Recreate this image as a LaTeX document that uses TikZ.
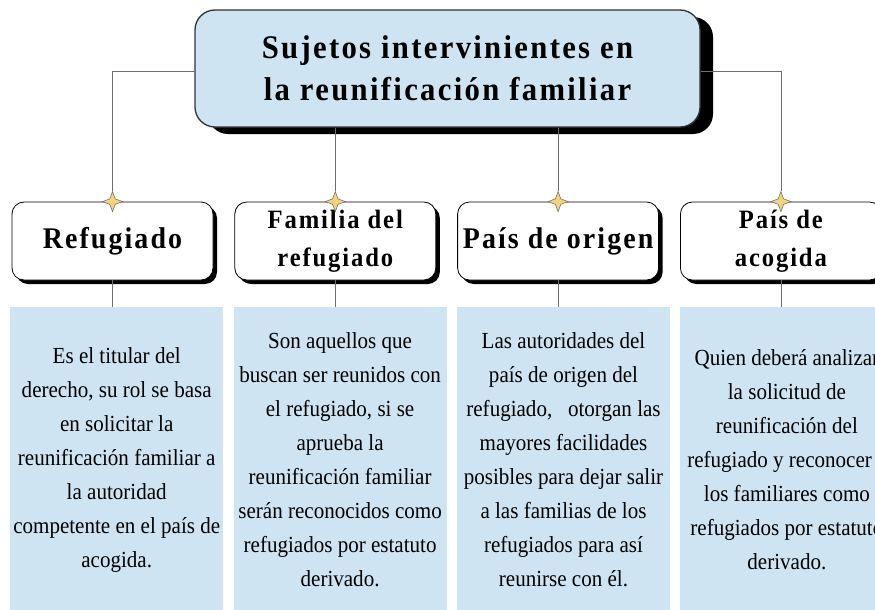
\documentclass[tikz,border=0pt]{standalone}
\usepackage{fontspec}
\setmainfont{Liberation Serif}[FakeStretch=0.915]
\newfontfamily\headfont{Liberation Serif}[FakeStretch=0.93,LetterSpace=7]
\usepackage{tikz}
\usetikzlibrary{shapes.geometric,shadows}
\definecolor{paleblue}{HTML}{CFE4F2}
\definecolor{sparkgold}{HTML}{F7D27C}
\definecolor{linkgray}{HTML}{6E6E6E}

\begin{document}
\begin{tikzpicture}[x=1pt, y=1pt,
  titlebox/.style={draw=black!80,line width=1.3pt,fill=paleblue,rounded corners=20pt,minimum width=505pt,minimum height=117pt,align=center,font=\headfont\bfseries\fontsize{33}{42}\selectfont,drop shadow={shadow xshift=13pt,shadow yshift=-7pt,fill=black,opacity=1}},
  childbox/.style={draw=black,line width=0.8pt,fill=white,rounded corners=12pt,minimum width=201pt,minimum height=78pt,align=center,font=\headfont\bfseries\fontsize{30}{38}\selectfont,drop shadow={shadow xshift=4pt,shadow yshift=-4pt,fill=black,opacity=1}},
  twolinebox/.style={childbox,font=\headfont\bfseries\fontsize{26.5}{38}\selectfont},
  descbox/.style={fill=paleblue,minimum width=213pt,minimum height=305pt,inner sep=0pt,align=center,font=\fontsize{23}{34}\selectfont},
  spark/.style={star,star points=4,star point ratio=2.6,fill=sparkgold,draw=black!55,line width=0.6pt,inner sep=0pt,minimum size=20pt},
  link/.style={draw=linkgray,line width=0.8pt}]
    \path[use as bounding box,fill=white] (0,0) rectangle (875,-610);
    \clip (0,0) rectangle (875,-610);
    \node at (447.5,-68.5) [titlebox] (title) {Sujetos intervinientes en\\la reunificación familiar};
    \node at (112.5,-241) [childbox] (refugiado) {Refugiado};
    \node at ([xshift=21]refugiado.east) [twolinebox,anchor=west] (familia) {Familia del\\refugiado};
    \node at ([xshift=21]familia.east) [childbox,anchor=west] (origen) {País de origen};
    \node at ([xshift=21]origen.east) [twolinebox,anchor=west] (acogida) {País de\\acogida};
    \node at (refugiado.north) [spark] (s1) {};
    \node at (familia.north) [spark] (s2) {};
    \node at (origen.north) [spark] (s3) {};
    \node at (acogida.north) [spark] (s4) {};
    \node at (10,-307) [descbox,anchor=north west] (d1) {Es el titular del\\derecho, su rol se basa\\en solicitar la\\reunificación familiar a\\la autoridad\\competente en el país de\\acogida.};
    \node at ([xshift=10]d1.north east) [descbox,anchor=north west] (d2) {Son aquellos que\\buscan ser reunidos con\\el refugiado, si se\\aprueba la\\reunificación familiar\\serán reconocidos como\\refugiados por estatuto\\derivado.};
    \node at ([xshift=10]d2.north east) [descbox,anchor=north west] (d3) {Las autoridades del\\país de origen del\\refugiado,\ \ \ otorgan las\\mayores facilidades\\posibles para dejar salir\\a las familias de los\\refugiados para así\\reunirse con él.};
    \node at ([xshift=10]d3.north east) [descbox,anchor=north west] (d4) {Quien deberá analizar\\la solicitud de\\reunificación del\\refugiado y reconocer a\\los familiares como\\refugiados por estatuto\\derivado.};
    \draw[link] ([yshift=-3]title.west) -| (s1.north);
    \draw[link] (title.south -| s2) -- (s2.north);
    \draw[link] (title.south -| s3) -- (s3.north);
    \draw[link] ([yshift=-3]title.east) -| (s4.north);
    \draw[link] (refugiado.south) -- (refugiado.south |- d1.north);
    \draw[link] (familia.south) -- (familia.south |- d2.north);
    \draw[link] (origen.south) -- (origen.south |- d3.north);
    \draw[link] (acogida.south) -- (acogida.south |- d4.north);
\end{tikzpicture}
\end{document}
